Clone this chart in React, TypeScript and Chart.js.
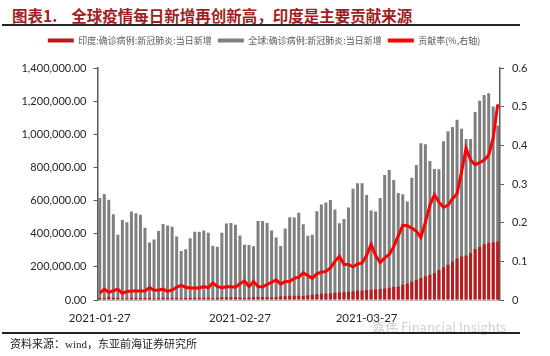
import React, { useEffect, useRef } from 'react';
import { Chart, registerables } from 'chart.js';

Chart.register(...registerables);

const dates = [
  '2021-01-27', '2021-01-28', '2021-01-29', '2021-01-30', '2021-01-31',
  '2021-02-01', '2021-02-02', '2021-02-03', '2021-02-04', '2021-02-05', '2021-02-06', '2021-02-07',
  '2021-02-08', '2021-02-09', '2021-02-10', '2021-02-11', '2021-02-12', '2021-02-13', '2021-02-14',
  '2021-02-15', '2021-02-16', '2021-02-17', '2021-02-18', '2021-02-19', '2021-02-20', '2021-02-21',
  '2021-02-22', '2021-02-23', '2021-02-24', '2021-02-25', '2021-02-26', '2021-02-27', '2021-02-28',
  '2021-03-01', '2021-03-02', '2021-03-03', '2021-03-04', '2021-03-05', '2021-03-06', '2021-03-07',
  '2021-03-08', '2021-03-09', '2021-03-10', '2021-03-11', '2021-03-12', '2021-03-13', '2021-03-14',
  '2021-03-15', '2021-03-16', '2021-03-17', '2021-03-18', '2021-03-19', '2021-03-20', '2021-03-21',
  '2021-03-22', '2021-03-23', '2021-03-24', '2021-03-25', '2021-03-26', '2021-03-27', '2021-03-28',
  '2021-03-29', '2021-03-30', '2021-03-31',
  '2021-04-01', '2021-04-02', '2021-04-03', '2021-04-04', '2021-04-05', '2021-04-06', '2021-04-07',
  '2021-04-08', '2021-04-09', '2021-04-10', '2021-04-11', '2021-04-12', '2021-04-13', '2021-04-14',
  '2021-04-15', '2021-04-16', '2021-04-17', '2021-04-18', '2021-04-19', '2021-04-20', '2021-04-21',
  '2021-04-22', '2021-04-23', '2021-04-24', '2021-04-25',
];

const xTickLabels = ['2021-01-27', '2021-02-27', '2021-03-27'];

// 印度:确诊病例:新冠肺炎:当日新增 (persons)
const indiaNew = [
  12700, 11700, 18900, 13100, 13100, 8600, 11000, 12900, 12400, 11700,
  12100, 11800, 9100, 11100, 12900, 12100, 12200, 11600, 9100, 11600,
  12900, 13200, 14000, 14300, 14200, 10600, 13700, 16700, 16600, 16800,
  16500, 15500, 12300, 15000, 17400, 18300, 18700, 18600, 15400, 17900,
  22900, 23300, 24900, 25300, 26300, 24500, 28900, 32000, 35000, 37000,
  39000, 41000, 44000, 46000, 48000, 50000, 53000, 56000, 58000, 60000,
  62000, 63000, 66000, 70000, 74000, 78000, 81000, 92000, 98000, 112000,
  122000, 133000, 143000, 153000, 163000, 181000, 198000, 212000, 232000, 251000,
  263000, 269000, 283000, 308000, 320000, 336000, 344000, 348000, 353000,
];

// 全球:确诊病例:新冠肺炎:当日新增 (persons)
const globalNew = [
  615000, 640000, 605000, 518000, 393000, 483000, 469000, 534000, 524000, 514000,
  436000, 347000, 365000, 416000, 458000, 450000, 442000, 383000, 295000, 306000,
  373000, 412000, 412000, 420000, 406000, 328000, 322000, 406000, 462000, 465000,
  454000, 389000, 333000, 332000, 325000, 477000, 476000, 464000, 420000, 377000,
  326000, 432000, 499000, 498000, 526000, 457000, 387000, 393000, 536000, 577000,
  589000, 603000, 546000, 463000, 489000, 558000, 672000, 705000, 704000, 633000,
  540000, 534000, 616000, 754000, 785000, 724000, 646000, 638000, 595000, 738000,
  815000, 946000, 940000, 839000, 791000, 789000, 958000, 1019000, 1044000, 1087000,
  1033000, 972000, 972000, 1135000, 1203000, 1237000, 1247000, 1168000, 1053000,
];

// 贡献率(%,右轴)
const contribution = [
  0.018, 0.028, 0.020, 0.024, 0.028, 0.017, 0.022, 0.023, 0.023, 0.023,
  0.023, 0.032, 0.025, 0.026, 0.028, 0.022, 0.026, 0.033, 0.038, 0.033,
  0.031, 0.031, 0.031, 0.035, 0.032, 0.044, 0.035, 0.032, 0.034, 0.034,
  0.033, 0.042, 0.049, 0.035, 0.048, 0.035, 0.034, 0.040, 0.046, 0.052,
  0.041, 0.048, 0.048, 0.056, 0.059, 0.070, 0.063, 0.056, 0.068, 0.072,
  0.074, 0.083, 0.100, 0.113, 0.092, 0.092, 0.086, 0.093, 0.096, 0.115,
  0.144, 0.115, 0.097, 0.109, 0.118, 0.138, 0.166, 0.193, 0.192, 0.186,
  0.178, 0.162, 0.201, 0.245, 0.272, 0.253, 0.240, 0.245, 0.262, 0.275,
  0.332, 0.392, 0.362, 0.350, 0.355, 0.362, 0.375, 0.419, 0.506,
];

const seriesNames = ['印度:确诊病例:新冠肺炎:当日新增', '全球:确诊病例:新冠肺炎:当日新增', '贡献率(%,右轴)'];

const axisFont = { family: 'Lato, "Liberation Sans", sans-serif', size: 11 };

function ChartBox() {
  const ref = useRef<HTMLCanvasElement | null>(null);
  useEffect(() => {
    if (!ref.current) return;
    const legendSpacer = {
      id: 'legendSpacer',
      beforeInit(chart: any) {
        if (!chart.legend) return;
        const orig = chart.legend.fit;
        chart.legend.fit = function () {
          orig.call(this);
          this.height += 13;
        };
      },
      afterLayout(chart: any) {
        if (!chart.legend) return;
        chart.legend.left -= 11;
        chart.legend.right -= 11;
      },
    };
    const chart = new Chart(ref.current, {
      type: 'bar',
      data: {
        labels: dates,
        datasets: [
          {
            type: 'bar',
            label: seriesNames[0],
            data: indiaNew,
            backgroundColor: '#C0171D',
            yAxisID: 'y',
            grouped: false,
            order: 1,
            barPercentage: 0.66,
            categoryPercentage: 1,
          } as any,
          {
            type: 'bar',
            label: seriesNames[1],
            data: globalNew,
            backgroundColor: '#7F7F7F',
            yAxisID: 'y',
            grouped: false,
            order: 2,
            barPercentage: 0.66,
            categoryPercentage: 1,
          } as any,
          {
            type: 'line',
            label: seriesNames[2],
            data: contribution,
            borderColor: '#FF0000',
            backgroundColor: '#FF0000',
            borderWidth: 3,
            pointRadius: 0,
            tension: 0,
            yAxisID: 'y1',
            order: 0,
          } as any,
        ],
      },
      options: {
        responsive: false,
        animation: false,
        layout: { padding: 0 },
        plugins: {
          tooltip: { enabled: false },
          legend: {
            position: 'top',
            labels: {
              boxWidth: 26,
              boxHeight: 4,
              padding: 6,
              color: '#595959',
              font: { family: '"Noto Sans CJK SC", sans-serif', size: 9 },
              sort: (a: any, b: any) => a.datasetIndex - b.datasetIndex,
              generateLabels: (c: any) => {
                const items = (Chart.defaults as any).plugins.legend.labels.generateLabels(c);
                return items.map((it: any) => ({ ...it, lineWidth: 0 }));
              },
            },
          },
        },
        scales: {
          x: {
            type: 'category',
            offset: true,
            grid: { display: false, drawTicks: false },
            border: { display: true, color: '#BFBFBF', width: 1 },
            ticks: {
              autoSkip: false,
              maxRotation: 0,
              minRotation: 0,
              padding: 11,
              color: '#262626',
              font: { ...axisFont, size: 11.5 },
              callback: (_v: any, i: number) => (xTickLabels.includes(dates[i]) ? dates[i] : ''),
            },
            afterFit: (s: any) => {
              s.height = 28;
            },
          },
          y: {
            position: 'left',
            min: 0,
            max: 1400000,
            ticks: {
              stepSize: 200000,
              padding: 7,
              color: '#262626',
              font: axisFont,
              callback: (v: any) =>
                Number(v).toLocaleString('en-US', { minimumFractionDigits: 2, maximumFractionDigits: 2 }),
            },
            grid: { drawOnChartArea: false, drawTicks: true, tickLength: 4, color: '#595959', lineWidth: 1 },
            border: { display: true, color: '#595959', width: 1.5 },
            afterFit: (s: any) => {
              s.width = 97.5;
            },
          },
          y1: {
            position: 'right',
            min: 0,
            max: 0.6,
            ticks: {
              stepSize: 0.1,
              padding: 8,
              color: '#262626',
              font: axisFont,
              callback: (v: any) => (Number(v) === 0 ? '0' : Number(v).toFixed(1)),
            },
            grid: { drawOnChartArea: false, drawTicks: true, tickLength: 4, color: '#595959', lineWidth: 1 },
            border: { display: true, color: '#595959', width: 1.5 },
            afterFit: (s: any) => {
              s.width = 50;
            },
          },
        },
      } as any,
      plugins: [legendSpacer],
    });
    return () => chart.destroy();
  }, []);
  return <canvas ref={ref} width={550} height={298} style={{ display: 'block' }} />;
}

export default function App() {
  return (
    <div
      style={{
        position: 'absolute',
        left: 0,
        top: 0,
        width: 550,
        height: 356,
        background: '#ffffff',
        overflow: 'hidden',
      }}
    >
      <div
        style={{
          position: 'absolute',
          left: 12,
          top: 5,
          fontSize: 15.5,
          lineHeight: '20px',
          fontWeight: 700,
          color: '#A01E22',
          fontFamily: '"Noto Sans CJK SC", sans-serif',
          whiteSpace: 'nowrap',
        }}
      >
        图表1.<span style={{ marginLeft: 14 }}>全球疫情每日新增再创新高，印度是主要贡献来源</span>
      </div>
      <div style={{ position: 'absolute', left: 2, top: 24, width: 518, height: 1.5, background: '#222' }} />
      <div style={{ position: 'absolute', left: 0, top: 30, width: 550, height: 298 }}>
        <ChartBox />
      </div>
      <div
        style={{
          position: 'absolute',
          left: 372,
          top: 318,
          fontSize: 13,
          lineHeight: '17px',
          color: 'rgba(170,170,170,0.55)',
          fontFamily: '"Noto Sans CJK SC", sans-serif',
          whiteSpace: 'nowrap',
        }}
      >
        嘉伟 Financial Insights
      </div>
      <div style={{ position: 'absolute', left: 2, top: 332, width: 518, height: 1.5, background: '#222' }} />
      <div
        style={{
          position: 'absolute',
          left: 10,
          top: 336,
          fontSize: 11,
          lineHeight: '16px',
          color: '#222',
          fontFamily: '"Liberation Serif", "Noto Sans CJK SC", serif',
          whiteSpace: 'nowrap',
        }}
      >
        资料来源：wind，东亚前海证券研究所
      </div>
    </div>
  );
}
